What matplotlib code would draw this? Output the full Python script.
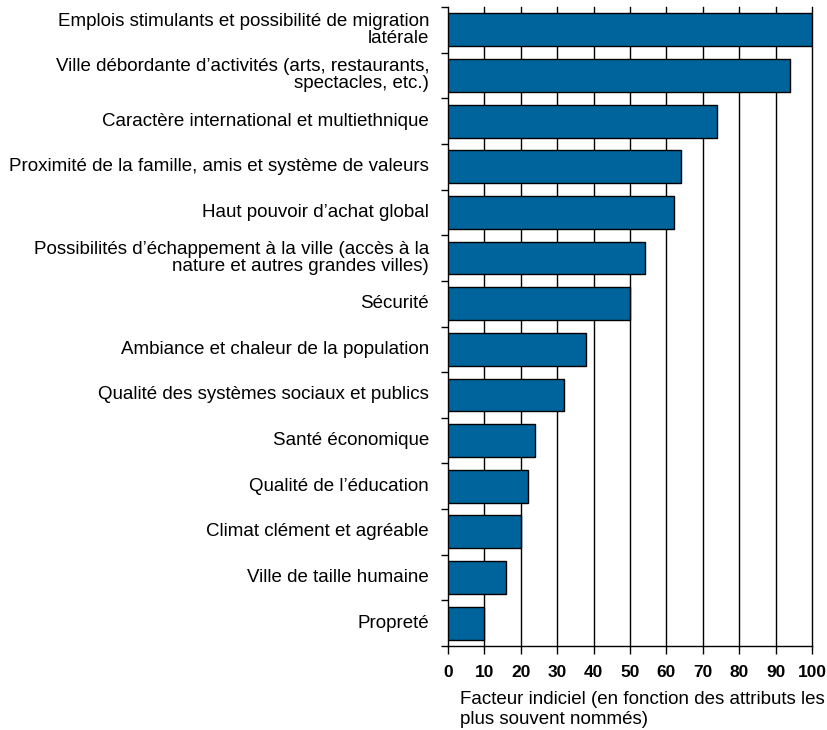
import matplotlib.pyplot as plt
import numpy as np

plt.rcParams['font.family'] = ['Liberation Sans', 'DejaVu Sans']

# attributes, top to bottom
labels = [
    "Emplois stimulants et possibilité de migration\nlatérale",
    "Ville débordante d\u2019activités (arts, restaurants,\nspectacles, etc.)",
    "Caractère international et multiethnique",
    "Proximité de la famille, amis et système de valeurs",
    "Haut pouvoir d\u2019achat global",
    "Possibilités d\u2019échappement à la ville (accès à la\nnature et autres grandes villes)",
    "Sécurité",
    "Ambiance et chaleur de la population",
    "Qualité des systèmes sociaux et publics",
    "Santé économique",
    "Qualité de l\u2019éducation",
    "Climat clément et agréable",
    "Ville de taille humaine",
    "Propreté",
]
values = [100, 94, 74, 64, 62, 54, 50, 38, 32, 24, 22, 20, 16, 10]
xticks = list(range(0, 101, 10))

fig = plt.figure(figsize=(8.27, 7.3), dpi=100)
ax = fig.add_axes([448 / 827, 84 / 730, 364 / 827, 639 / 730])

n = len(values)
ypos = np.arange(n)[::-1]
ax.barh(ypos, values, height=0.72, color='#00649c', edgecolor='black',
        linewidth=1.0, zorder=3)

ax.set_xlim(0, 100)
ax.set_ylim(-0.5, n - 0.5)

for x in xticks[1:]:
    ax.axvline(x, color='black', linewidth=1.0, zorder=1, clip_on=False)

ax.set_xticks(xticks)
ax.set_xticklabels([str(t) for t in xticks], fontweight='bold', fontsize=12.5)
ax.tick_params(axis='x', direction='out', length=6, width=1.0, pad=8)

# category boundary ticks on the left
ax.set_yticks(np.arange(-0.5, n, 1.0))
ax.set_yticklabels([])
ax.tick_params(axis='y', direction='out', length=5, width=1.0)

for y, lab in zip(ypos, labels):
    ax.text(-0.052, y, lab, transform=ax.get_yaxis_transform(),
            ha='right', va='center', fontsize=13.5, linespacing=1.0)

for s in ['top', 'right']:
    ax.spines[s].set_visible(False)
ax.spines['left'].set_linewidth(1.0)
ax.spines['bottom'].set_linewidth(1.0)

ax.text(0.033, -0.071, "Facteur indiciel (en fonction des attributs les\nplus souvent nommés)",
        transform=ax.transAxes, ha='left', va='top', fontsize=13.5, linespacing=1.2)

fig.savefig('out.png', dpi=100)
